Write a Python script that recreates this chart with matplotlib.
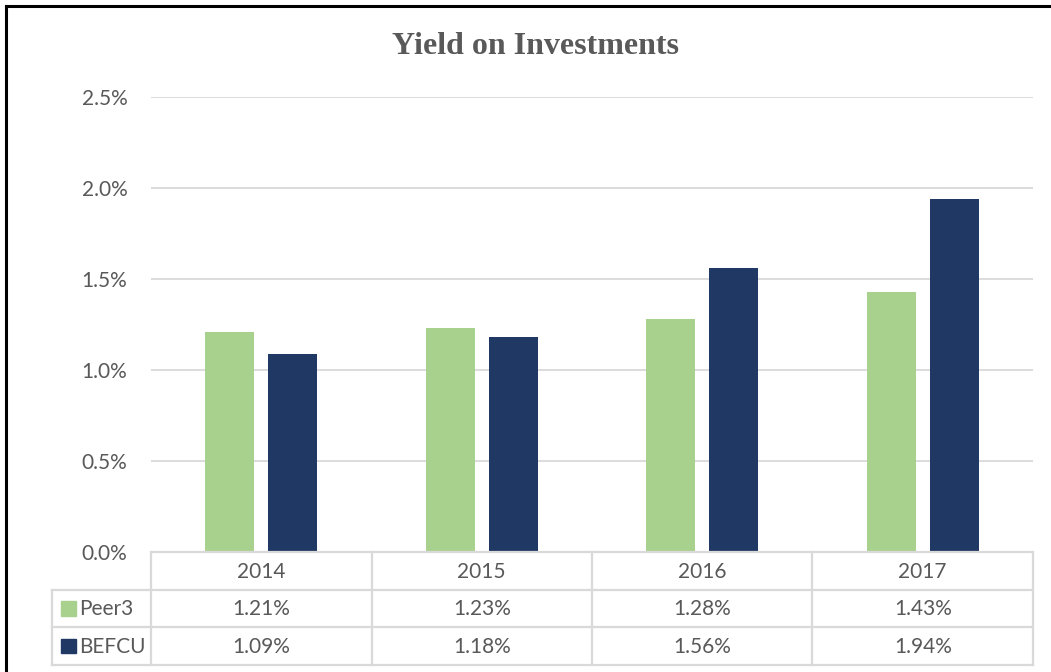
import matplotlib
matplotlib.use("Agg")
import matplotlib.pyplot as plt
from matplotlib.lines import Line2D
from matplotlib.patches import Rectangle
import numpy as np

years = ["2014", "2015", "2016", "2017"]
series_names = ["Peer3", "BEFCU"]
peer3 = [1.21, 1.23, 1.28, 1.43]
befcu = [1.09, 1.18, 1.56, 1.94]
yticks = [0.0, 0.5, 1.0, 1.5, 2.0, 2.5]
title = "Yield on Investments"

colors = ["#A9D18E", "#203864"]
text_c = "#595959"
grid_c = "#D9D9D9"

W, H = 1051, 672
fig = plt.figure(figsize=(W / 100, H / 100), dpi=100)

def fx(px):
    return px / W

def fy(py):
    return 1 - py / H

# main plot area
L, R, T, B = 151, 1033, 97, 552
ax = fig.add_axes([fx(L), fy(B), fx(R) - fx(L), fy(T) - fy(B)])
x = np.arange(len(years))
bw = 0.222
off = 0.143
ax.bar(x - off, peer3, bw, color=colors[0], zorder=3)
ax.bar(x + off, befcu, bw, color=colors[1], zorder=3)
ax.set_xlim(-0.5, len(years) - 0.5)
ax.set_ylim(0, 2.5)
ax.set_yticks(yticks)
fs = 15
ax.set_yticklabels([f"{v:.1f}%" for v in yticks], fontsize=fs, color=text_c, family="Lato")
ax.tick_params(axis="y", length=0, pad=17)
ax.set_xticks([])
for s in ax.spines.values():
    s.set_visible(False)
ax.yaxis.grid(True, color=grid_c, linewidth=1.3, zorder=0)
ax.set_axisbelow(True)

# data table
TL, TB = 52, 665
upx = (R - L) / len(years)
tab = fig.add_axes([fx(TL), fy(TB), fx(R) - fx(TL), fy(B) - fy(TB)])
tab.set_xlim(-0.5 - (L - TL) / upx, len(years) - 0.5)
tab.set_ylim(3, 0)
tab.axis("off")
lw = 1.6
xl = tab.get_xlim()[0]
# horizontal lines
tab.plot([-0.5, len(years) - 0.5], [0, 0], color=grid_c, lw=lw, clip_on=False)
for r in [1, 2, 3]:
    tab.plot([xl, len(years) - 0.5], [r, r], color=grid_c, lw=lw, clip_on=False)
# vertical lines
for i in range(len(years) + 1):
    tab.plot([i - 0.5, i - 0.5], [0, 3], color=grid_c, lw=lw, clip_on=False)
tab.plot([xl, xl], [1, 3], color=grid_c, lw=lw, clip_on=False)

for i, yv in enumerate(years):
    tab.text(i, 0.52, yv, ha="center", va="center", fontsize=fs, color=text_c, family="Lato")
for r, (name, vals) in enumerate(zip(series_names, [peer3, befcu]), start=1):
    for i, v in enumerate(vals):
        tab.text(i, r + 0.52, f"{v:.2f}%", ha="center", va="center", fontsize=fs,
                 color=text_c, family="Lato")
    sq = 0.068
    tab.add_patch(Rectangle((xl + 0.04, r + 0.5 - 0.19), sq, 0.38,
                            color=colors[r - 1], clip_on=False))
    tab.text(xl + 0.125, r + 0.52, name, ha="left", va="center", fontsize=fs,
             color=text_c, family="Lato")

fig.text(fx(535), fy(46), title, ha="center", va="center", fontsize=23, fontweight="bold",
         color=text_c, family="Liberation Serif")

# outer border (top and left)
fig.add_artist(Line2D([fx(6), fx(6)], [0, fy(6)], color="black", lw=2.2))
fig.add_artist(Line2D([fx(6), 1], [fy(6), fy(6)], color="black", lw=2.2))

fig.savefig("out.png", dpi=100, facecolor="white")
